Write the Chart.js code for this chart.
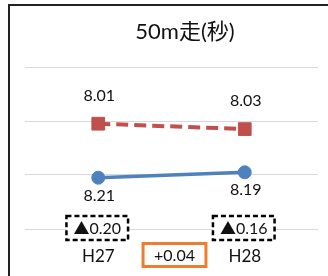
<!DOCTYPE html>
<html>
<head>
<meta charset="utf-8">
<script src="https://cdn.jsdelivr.net/npm/chart.js@4"></script>
<style>
  html, body { margin: 0; padding: 0; background: #fff; }
  #wrap { position: relative; width: 328px; height: 276px; }
</style>
</head>
<body>
<div id="wrap"><canvas id="chart" width="328" height="276"></canvas></div>
<script>
// ---- data ----
const chartTitle = "50m走(秒)";
const categories = ["H27", "H28"];
const topValues = [8.01, 8.03];      // red dashed, squares
const bottomValues = [8.21, 8.19];   // blue solid, circles
const gapLabels = ["▲0.20", "▲0.16"];
const changeLabel = "+0.04";
const yRange = [7.8, 8.4];
const yStep = 0.2;

const FONT = "Lato, 'Noto Sans CJK JP', sans-serif";
const RED = "#C0504D";
const BLUE = "#4F81BD";
const TEXT = "#111";

// frame, title, value labels and the little boxes
const decorations = {
  id: "decorations",
  beforeDraw(chart) {
    const ctx = chart.ctx;
    ctx.save();
    ctx.strokeStyle = "#222";
    ctx.lineWidth = 2;
    ctx.beginPath();
    ctx.moveTo(9, 276);
    ctx.lineTo(9, 5);
    ctx.lineTo(328, 5);
    ctx.stroke();

    ctx.fillStyle = TEXT;
    ctx.font = "22px " + FONT;
    ctx.textAlign = "center";
    ctx.textBaseline = "middle";
    ctx.fillText(chartTitle, 185, 32);
    ctx.restore();
  },
  afterDraw(chart) {
    const ctx = chart.ctx;
    const xs = chart.scales.x, ys = chart.scales.y;
    ctx.save();
    ctx.fillStyle = TEXT;
    ctx.font = "16px " + FONT;
    ctx.textAlign = "center";
    ctx.textBaseline = "middle";

    chart.getDatasetMeta(0).data.forEach((p, i) => {
      ctx.fillText(topValues[i].toFixed(2), p.x + 1, p.y - 28);
    });
    chart.getDatasetMeta(1).data.forEach((p, i) => {
      ctx.fillText(bottomValues[i].toFixed(2), p.x + 1, p.y + 18);
    });

    // dashed boxes with the gap per year
    const boxY = ys.getPixelForValue(yRange[1]) - 1;
    gapLabels.forEach((txt, i) => {
      const cx = xs.getPixelForValue(i) - 1;
      const w = ctx.measureText(txt).width + 14;
      const h = 24;
      ctx.fillStyle = "#fff";
      ctx.fillRect(cx - w / 2, boxY - h / 2, w, h);
      ctx.setLineDash([5, 3]);
      ctx.lineWidth = 2.5;
      ctx.strokeStyle = "#000";
      ctx.strokeRect(cx - w / 2, boxY - h / 2, w, h);
      ctx.setLineDash([]);
      ctx.fillStyle = TEXT;
      ctx.fillText(txt, cx, boxY + 1);
    });

    // orange box with the change between years
    const mx = (xs.getPixelForValue(0) + xs.getPixelForValue(1)) / 2 + 3;
    const my = 255;
    const w = ctx.measureText(changeLabel).width + 22;
    const h = 23;
    ctx.fillStyle = "#fff";
    ctx.fillRect(mx - w / 2, my - h / 2, w, h);
    ctx.lineWidth = 3;
    ctx.strokeStyle = "#ED7D31";
    ctx.strokeRect(mx - w / 2, my - h / 2, w, h);
    ctx.fillStyle = TEXT;
    ctx.fillText(changeLabel, mx, my + 1);
    ctx.restore();
  }
};

new Chart(document.getElementById("chart"), {
  type: "line",
  data: {
    labels: categories,
    datasets: [
      {
        data: topValues,
        borderColor: RED,
        backgroundColor: RED,
        borderWidth: 4,
        borderDash: [12, 6],
        pointStyle: "rect",
        pointRadius: 9,
        pointBorderWidth: 1,
        tension: 0
      },
      {
        data: bottomValues,
        borderColor: BLUE,
        backgroundColor: BLUE,
        borderWidth: 3.5,
        pointStyle: "circle",
        pointRadius: 6.5,
        pointBorderWidth: 1,
        tension: 0
      }
    ]
  },
  options: {
    responsive: false,
    animation: false,
    layout: { padding: { top: 67, left: 25, right: 9, bottom: 0 } },
    plugins: {
      legend: { display: false },
      title: { display: false },
      tooltip: { enabled: false }
    },
    scales: {
      x: {
        offset: true,
        grid: { display: false, drawTicks: false },
        border: { display: false },
        ticks: { color: TEXT, font: { family: FONT, size: 17 }, padding: 17 },
        afterFit: s => { s.height = 47; }
      },
      y: {
        reverse: true,
        min: yRange[0],
        max: yRange[1],
        ticks: { display: false, stepSize: yStep },
        grid: { color: "#d9d9d9", lineWidth: 1, drawTicks: false },
        border: { display: false },
        afterFit: s => { s.width = 0; }
      }
    }
  },
  plugins: [decorations]
});
</script>
</body>
</html>
